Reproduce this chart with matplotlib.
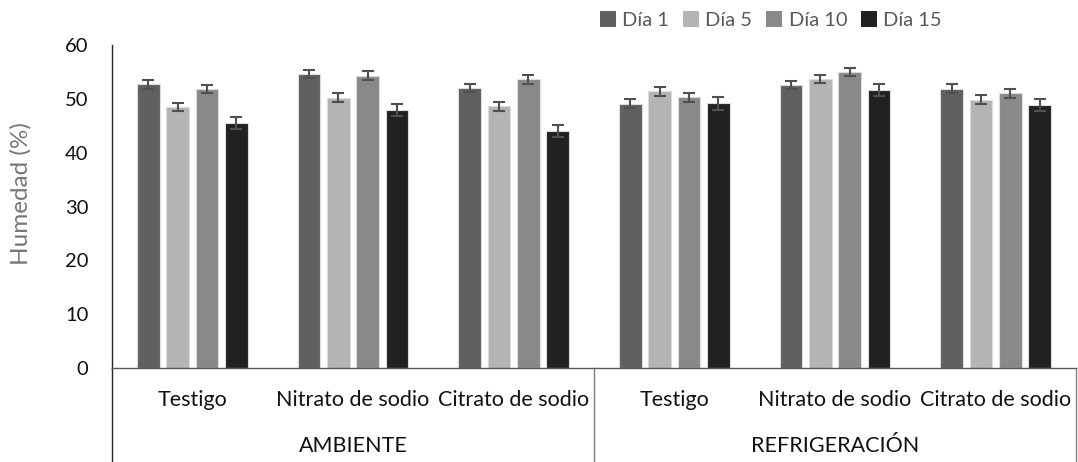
import matplotlib
matplotlib.use("Agg")
import matplotlib.pyplot as plt
import numpy as np
from matplotlib.transforms import blended_transform_factory
from matplotlib.patches import Patch

# Moisture content (%) by treatment, storage condition and day
groups = ["AMBIENTE", "REFRIGERACIÓN"]
treatments = ["Testigo", "Nitrato de sodio", "Citrato de sodio"]
series = ["Día 1", "Día 5", "Día 10", "Día 15"]

dia1 = [52.7, 54.6, 52.0, 49.1, 52.6, 51.9]
dia5 = [48.5, 50.2, 48.6, 51.4, 53.7, 49.8]
dia10 = [51.8, 54.3, 53.6, 50.3, 55.0, 51.0]
dia15 = [45.5, 47.9, 44.0, 49.2, 51.6, 48.9]

err1 = [0.8, 0.8, 0.8, 0.8, 0.8, 0.8]
err5 = [0.8, 0.8, 0.8, 0.85, 0.8, 0.85]
err10 = [0.8, 0.8, 0.8, 0.8, 0.8, 0.8]
err15 = [1.15, 1.15, 1.1, 1.2, 1.15, 1.15]

values = [dia1, dia5, dia10, dia15]
errors = [err1, err5, err10, err15]
colors = ["#606060", "#b4b4b4", "#898989", "#212121"]

plt.rcParams["font.family"] = ["Lato", "DejaVu Sans"]

W, H = 1078, 462
fig = plt.figure(figsize=(W / 100, H / 100), dpi=100)
ax_left, ax_right, ax_bottom, ax_top = 112, 1076, 368, 45
ax = fig.add_axes([ax_left / W, 1 - ax_bottom / H,
                   (ax_right - ax_left) / W, (ax_bottom - ax_top) / H])

n_cat = len(groups) * len(treatments)
x = np.arange(n_cat)
step = 0.182
width = 0.141
for i, (vals, errs, col) in enumerate(zip(values, errors, colors)):
    xpos = x + (i - 1.5) * step
    ax.bar(xpos, vals, width, color=col, edgecolor="#dcdcdc", linewidth=0.8,
           label=series[i], zorder=2)
    ax.errorbar(xpos, vals, yerr=errs, fmt="none", ecolor="#505050",
                elinewidth=1.5, capsize=4.3, capthick=1.5, zorder=3)

ax.set_xlim(-0.5, n_cat - 0.5)
ax.set_ylim(0, 60)
ax.set_yticks(np.arange(0, 61, 10))
ax.tick_params(axis="y", length=0, pad=17, labelsize=14.5, labelcolor="#111111")
ax.set_xticks([])

for s in ["top", "right"]:
    ax.spines[s].set_visible(False)
ax.spines["left"].set_color("#262626")
ax.spines["left"].set_linewidth(1.0)
ax.spines["bottom"].set_color("#595959")
ax.spines["bottom"].set_linewidth(1.0)

ax.set_ylabel("Humedad (%)", fontsize=17.5, color="#777777")
ax.yaxis.set_label_coords(-0.083, 0.54)

# Multi-level category axis drawn below the plot
trans = blended_transform_factory(ax.transData, fig.transFigure)
y_cat = 1 - 400 / H
y_grp = 1 - 446 / H
for k in range(n_cat):
    ax.text(x[k], y_cat, treatments[k % len(treatments)], transform=trans,
            ha="center", va="center", fontsize=15.5, color="#111111")
for g, name in enumerate(groups):
    center = g * len(treatments) + (len(treatments) - 1) / 2
    ax.text(center, y_grp, name, transform=trans, ha="center", va="center",
            fontsize=15.5, color="#111111")

y_line_top = 1 - ax_bottom / H
for bx, col in [(-0.5, "#262626"), (2.5, "#808080"), (n_cat - 0.5, "#808080")]:
    ax.plot([bx, bx], [y_line_top, 0], transform=trans, color=col,
            linewidth=1.0, clip_on=False)

handles = [Patch(facecolor=c, edgecolor="none") for c in colors]
leg = fig.legend(handles, series, loc="center", bbox_to_anchor=(771 / W, 1 - 20 / H),
                 ncol=4, frameon=False, fontsize=14.5, handlelength=0.8,
                 handleheight=0.8, handletextpad=0.3, columnspacing=0.7)
for t in leg.get_texts():
    t.set_color("#595959")

fig.savefig("out.png", dpi=100)
